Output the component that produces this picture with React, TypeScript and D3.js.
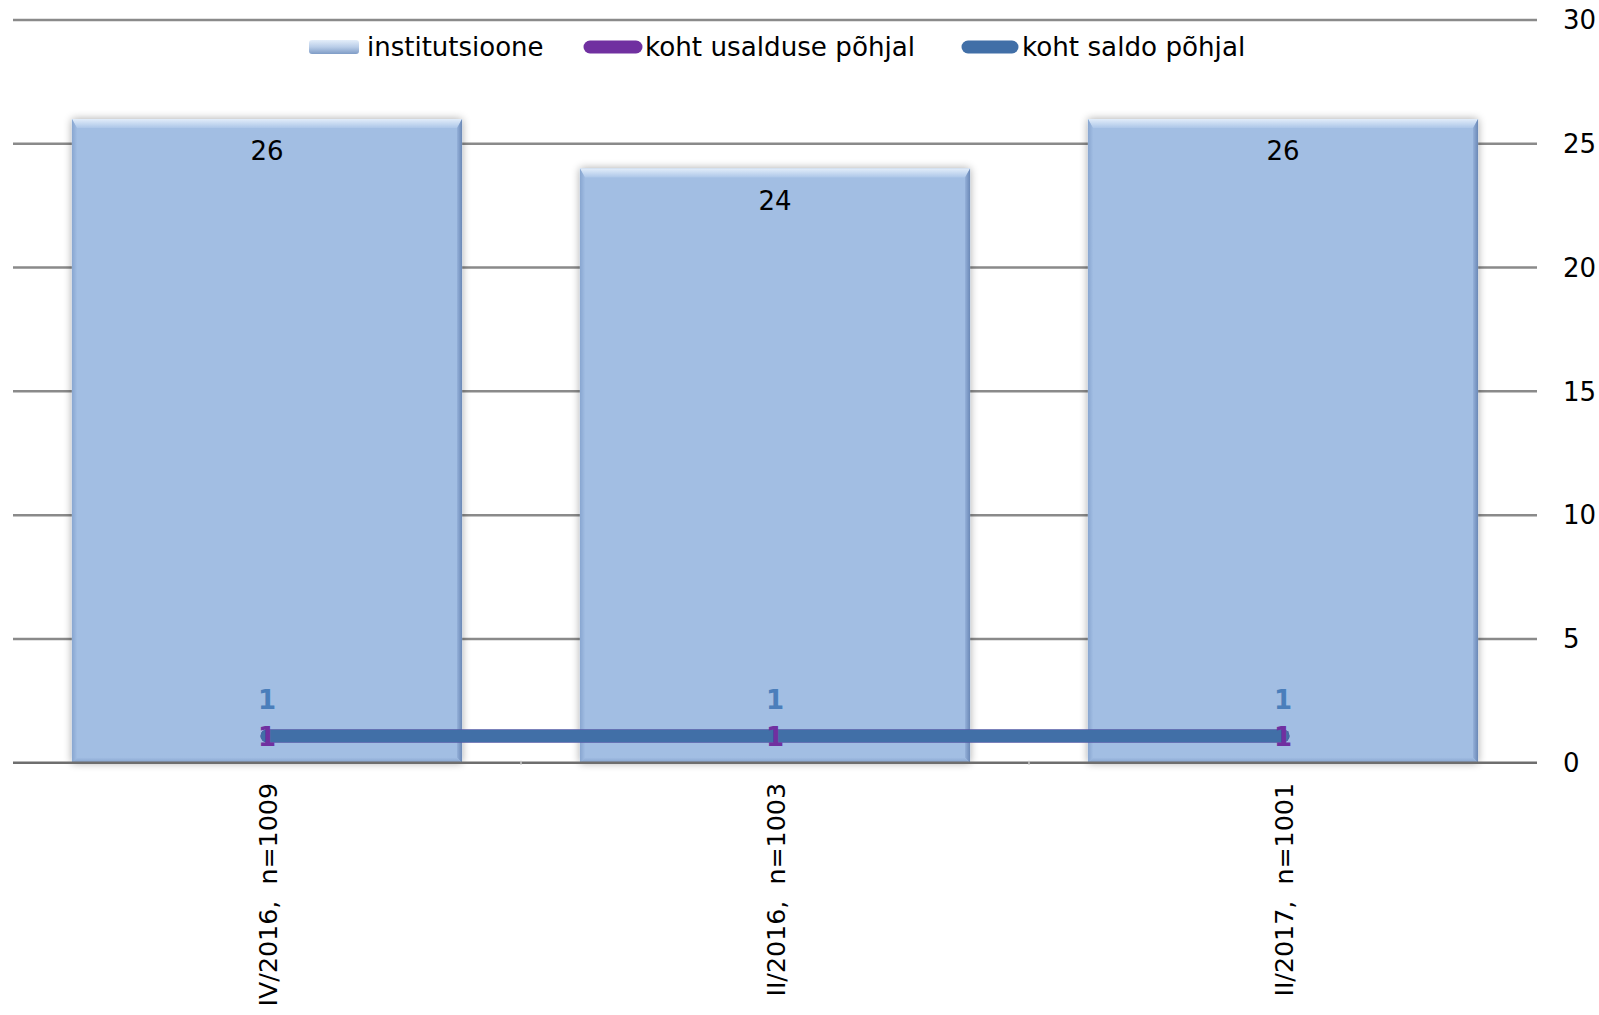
import React from "react";
import * as d3 from "d3";

const categories = ["IV/2016,  n=1009", "II/2016,  n=1003", "II/2017,  n=1001"];
const institutsioone = [26, 24, 26];
const kohtUsaldus = [1, 1, 1];
const kohtSaldo = [1, 1, 1];
const yTicks = [0, 5, 10, 15, 20, 25, 30];
const legendLabels = ["institutsioone", "koht usalduse põhjal", "koht saldo põhjal"];

const W = 1599;
const H = 1015;
const FONT = "'DejaVu Sans', Verdana, sans-serif";

export default function App() {
  const left = 13;
  const right = 1537;
  const x = d3.scaleBand<string>().domain(categories).range([left, right]).paddingInner(0.232).paddingOuter(0.116);
  const y = d3.scaleLinear().domain([0, 30]).range([762.7, 20]);
  const bw = x.bandwidth();
  const cx = (c: string) => (x(c) as number) + bw / 2;

  const line = d3
    .line<number>()
    .x((_, i) => cx(categories[i]))
    .y((d) => y(d) - 2);

  const bevel = 9;
  const side = 5;

  return (
    <svg width={W} height={H} style={{ position: "absolute", left: 0, top: 0, background: "#fff" }} fontFamily={FONT}>
      <defs>
        <linearGradient id="topBevel" x1="0" y1="0" x2="0" y2="1">
          <stop offset="0" stopColor="#e2edfa" />
          <stop offset="1" stopColor="#acc6e8" />
        </linearGradient>
        <linearGradient id="rightEdge" x1="0" y1="0" x2="1" y2="0">
          <stop offset="0" stopColor="#93afd8" />
          <stop offset="1" stopColor="#6a88b6" />
        </linearGradient>
        <linearGradient id="leftEdge" x1="0" y1="0" x2="1" y2="0">
          <stop offset="0" stopColor="#88a6d0" />
          <stop offset="1" stopColor="#a0bce2" />
        </linearGradient>
        <linearGradient id="bottomEdge" x1="0" y1="0" x2="0" y2="1">
          <stop offset="0" stopColor="#a0bce2" />
          <stop offset="1" stopColor="#86a3cd" />
        </linearGradient>
        <linearGradient id="legendBar" x1="0" y1="0" x2="0" y2="1">
          <stop offset="0" stopColor="#e4eefa" />
          <stop offset="0.5" stopColor="#b9cde8" />
          <stop offset="1" stopColor="#7f9cc6" />
        </linearGradient>
        <filter id="shadow" x="-10%" y="-10%" width="120%" height="120%">
          <feGaussianBlur in="SourceAlpha" stdDeviation="4" />
          <feComponentTransfer>
            <feFuncA type="linear" slope="0.35" />
          </feComponentTransfer>
          <feMerge>
            <feMergeNode />
            <feMergeNode in="SourceGraphic" />
          </feMerge>
        </filter>
      </defs>

      {/* gridlines */}
      {yTicks.slice(1).map((t) => (
        <line key={t} x1={left} x2={right} y1={y(t)} y2={y(t)} stroke="#8a8a8a" strokeWidth={2.5} />
      ))}

      {/* bars */}
      {categories.map((c, i) => {
        const x0 = x(c) as number;
        const x1 = x0 + bw;
        const y0 = y(institutsioone[i]);
        const y1 = y(0);
        return (
          <g key={c} filter="url(#shadow)">
            <rect x={x0} y={y0} width={bw} height={y1 - y0} fill="#a2bee3" />
            <polygon points={`${x0},${y0} ${x1},${y0} ${x1 - side},${y0 + bevel} ${x0 + side},${y0 + bevel}`} fill="url(#topBevel)" />
            <polygon points={`${x1},${y0} ${x1},${y1} ${x1 - side},${y1 - side} ${x1 - side},${y0 + bevel}`} fill="url(#rightEdge)" />
            <polygon points={`${x0},${y0} ${x0 + side},${y0 + bevel} ${x0 + side},${y1 - side} ${x0},${y1}`} fill="url(#leftEdge)" />
            <polygon points={`${x0},${y1} ${x0 + side},${y1 - side} ${x1 - side},${y1 - side} ${x1},${y1}`} fill="url(#bottomEdge)" />
          </g>
        );
      })}

      {/* x axis */}
      <line x1={left} x2={right} y1={y(0)} y2={y(0)} stroke="#6e6e6e" strokeWidth={2.5} />
      {[1, 2].map((k) => {
        const xb = (x(categories[k]) as number) - (x.step() - bw) / 2;
        return <line key={k} x1={xb} x2={xb} y1={y(0) - 2} y2={y(0) + 2} stroke="#c8c8c8" strokeWidth={1.5} />;
      })}

      {/* y tick labels (right) */}
      {yTicks.map((t) => (
        <text key={t} x={1563} y={y(t)} dy="0.36em" fontSize={26} fill="#000">
          {t}
        </text>
      ))}

      {/* bar labels */}
      {categories.map((c, i) => (
        <text key={c} x={cx(c)} y={y(institutsioone[i]) + 32} dy="0.36em" textAnchor="middle" fontSize={26} fill="#000">
          {institutsioone[i]}
        </text>
      ))}

      {/* lines */}
      <path d={line(kohtUsaldus) || ""} fill="none" stroke="#7030a0" strokeWidth={13} strokeLinecap="round" />
      <path d={line(kohtSaldo) || ""} fill="none" stroke="#416fa7" strokeWidth={13} strokeLinecap="round" />

      {/* line labels */}
      {categories.map((c, i) => (
        <text key={"s" + c} x={cx(c)} y={y(kohtSaldo[i]) - 38} dy="0.36em" textAnchor="middle" fontSize={26} fontWeight="bold" fill="#4a7ebb">
          {kohtSaldo[i]}
        </text>
      ))}
      {categories.map((c, i) => (
        <text key={"u" + c} x={cx(c)} y={y(kohtUsaldus[i]) - 1} dy="0.36em" textAnchor="middle" fontSize={26} fontWeight="bold" fill="#7030a0">
          {kohtUsaldus[i]}
        </text>
      ))}

      {/* category labels */}
      {categories.map((c) => (
        <text
          key={"c" + c}
          transform={`translate(${cx(c)},783) rotate(-90)`}
          dy="0.38em"
          textAnchor="end"
          fontSize={25.3}
          fill="#000"
          style={{ whiteSpace: "pre" }}
        >
          {c}
        </text>
      ))}

      {/* legend */}
      <g>
        <rect x={309} y={40} width={50} height={14} rx={3} fill="url(#legendBar)" />
        <text x={367} y={47} dy="0.36em" fontSize={26} fill="#000">
          {legendLabels[0]}
        </text>
        <line x1={590} x2={636} y1={47} y2={47} stroke="#7030a0" strokeWidth={13} strokeLinecap="round" />
        <text x={645} y={47} dy="0.36em" fontSize={26.2} fill="#000">
          {legendLabels[1]}
        </text>
        <line x1={968} x2={1012} y1={47} y2={47} stroke="#416fa7" strokeWidth={13} strokeLinecap="round" />
        <text x={1022} y={47} dy="0.36em" fontSize={26.2} fill="#000">
          {legendLabels[2]}
        </text>
      </g>
    </svg>
  );
}
